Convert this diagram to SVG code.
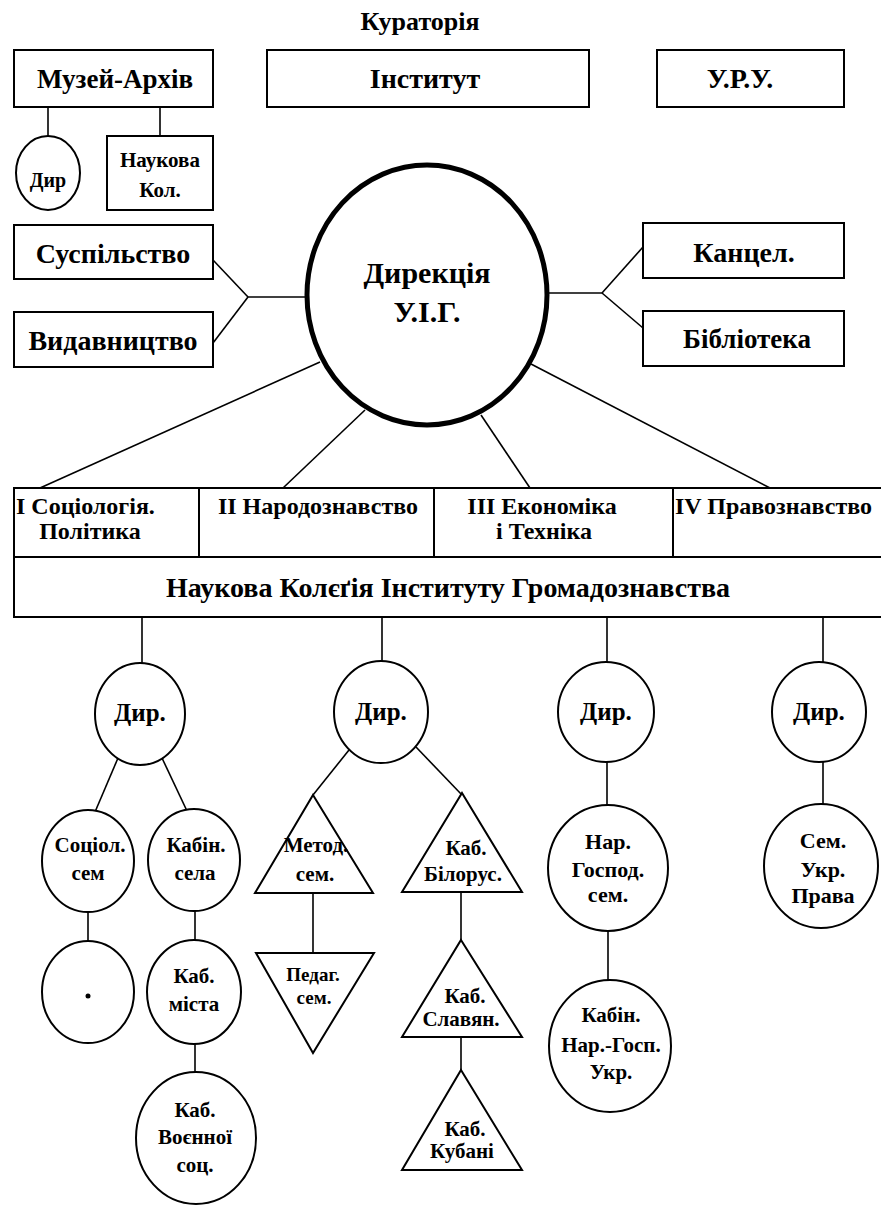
<svg xmlns="http://www.w3.org/2000/svg" width="881" height="1206" viewBox="0 0 881 1206">
<style>
.n{fill:#fff;stroke:#000;stroke-width:2}
.big{fill:#fff;stroke:#000;stroke-width:5}
.c line,.c path{stroke:#000;stroke-width:1.6;fill:none}
.d{stroke:#000;stroke-width:2}
text{font-family:"Liberation Serif","Times New Roman",serif;font-weight:bold;text-anchor:middle;fill:#000}
.s{text-anchor:start}
.t19{font-size:19px}.t20{font-size:20px}.t21{font-size:21px}.t22{font-size:22px}.t24{font-size:24px}.t25{font-size:25px}.t26{font-size:26px}.t27{font-size:27px}.t28{font-size:28px}.t30{font-size:30px}
</style>
<rect width="881" height="1206" fill="#fff"/>
<g id="connectors" class="c">
<line x1="48" y1="107" x2="48" y2="137"/>
<line x1="160" y1="107" x2="160" y2="136"/>
<line x1="213" y1="260" x2="248" y2="297"/>
<line x1="213" y1="343" x2="248" y2="297"/>
<line x1="248" y1="297" x2="307" y2="297"/>
<line x1="547" y1="293" x2="602" y2="293"/>
<line x1="602" y1="293" x2="643" y2="247"/>
<line x1="602" y1="293" x2="643" y2="328"/>
<line x1="320" y1="362" x2="40" y2="488"/>
<line x1="365" y1="410" x2="283" y2="488"/>
<line x1="481" y1="415" x2="530" y2="488"/>
<line x1="531" y1="364" x2="770" y2="488"/>
<line x1="142" y1="617" x2="142" y2="663"/>
<line x1="382" y1="617" x2="382" y2="661"/>
<line x1="607" y1="617" x2="607" y2="662"/>
<line x1="823" y1="617" x2="823" y2="662"/>
<line x1="118" y1="758" x2="95" y2="812"/>
<line x1="162" y1="758" x2="187" y2="811"/>
<line x1="349" y1="750" x2="313" y2="795"/>
<line x1="416" y1="747" x2="462" y2="795"/>
<line x1="607" y1="762" x2="607" y2="805"/>
<line x1="823" y1="762" x2="823" y2="804"/>
<line x1="88" y1="912" x2="88" y2="941"/>
<line x1="195" y1="911" x2="195" y2="940"/>
<line x1="195" y1="1044" x2="195" y2="1072"/>
<line x1="313" y1="893" x2="313" y2="953"/>
<line x1="461" y1="892" x2="461" y2="940"/>
<line x1="461" y1="1037" x2="461" y2="1070"/>
<line x1="608" y1="931" x2="608" y2="980"/>
</g>
<g id="curatorship"><text class="t26" x="420" y="30">Кураторія</text></g>
<g id="museum"><rect class="n" x="14" y="50" width="199" height="57"/><text class="t27" x="115" y="88">Музей-Архів</text></g>
<g id="institute"><rect class="n" x="267" y="50" width="322" height="57"/><text class="t28" x="425" y="88">Інститут</text></g>
<g id="uru"><rect class="n" x="657" y="50" width="187" height="57"/><text class="t28" x="740" y="88">У.Р.У.</text></g>
<g id="museum-dir"><ellipse class="n" cx="48" cy="173" rx="32" ry="37"/><text class="t20" x="48" y="187">Дир</text></g>
<g id="museum-college"><rect class="n" x="107" y="136" width="106" height="74"/><text class="t21" x="160" y="167">Наукова</text><text class="t21" x="160" y="197">Кол.</text></g>
<g id="society"><rect class="n" x="14" y="225" width="199" height="54"/><text class="t28" x="113" y="263">Суспільство</text></g>
<g id="publishing"><rect class="n" x="14" y="312" width="199" height="55"/><text class="t28" x="113" y="350">Видавництво</text></g>
<g id="chancellery"><rect class="n" x="643" y="223" width="201" height="55"/><text class="t28" x="744" y="262">Канцел.</text></g>
<g id="library"><rect class="n" x="643" y="311" width="201" height="55"/><text class="t27" x="747" y="348">Бібліотека</text></g>
<g id="directorate"><ellipse class="big" cx="427" cy="295" rx="120" ry="130"/><text class="t30" x="427" y="283">Дирекція</text><text class="t30" x="427" y="322">У.І.Г.</text></g>
<g id="sections">
<rect class="n" x="14" y="488" width="870" height="129"/>
<line class="d" x1="14" y1="557" x2="884" y2="557"/>
<line class="d" x1="199" y1="488" x2="199" y2="557"/>
<line class="d" x1="434" y1="488" x2="434" y2="557"/>
<line class="d" x1="673" y1="488" x2="673" y2="557"/>
</g>
<g id="sec1"><text class="t24 s" x="16" y="514">I Соціологія.</text><text class="t24" x="90" y="539">Політика</text></g>
<g id="sec2"><text class="t24" x="318" y="514">II Народознавство</text></g>
<g id="sec3"><text class="t24" x="542" y="514">III Економіка</text><text class="t24" x="544" y="539">і Техніка</text></g>
<g id="sec4"><text class="t24 s" x="675" y="514">IV Правознавство</text></g>
<g id="college"><text class="t28" x="448" y="597">Наукова Колєґія Інституту Громадознавства</text></g>
<g id="dir1"><ellipse class="n" cx="140" cy="714" rx="45" ry="51"/><text class="t25" x="140" y="721">Дир.</text></g>
<g id="dir2"><ellipse class="n" cx="381" cy="712" rx="47" ry="51"/><text class="t25" x="381" y="720">Дир.</text></g>
<g id="dir3"><ellipse class="n" cx="606" cy="712" rx="48" ry="50"/><text class="t25" x="606" y="720">Дир.</text></g>
<g id="dir4"><ellipse class="n" cx="819" cy="712" rx="47" ry="50"/><text class="t25" x="819" y="720">Дир.</text></g>
<g id="sociol-sem"><ellipse class="n" cx="88" cy="861" rx="46" ry="51"/><text class="t21" x="90" y="852">Соціол.</text><text class="t21" x="88" y="880">сем</text></g>
<g id="village"><ellipse class="n" cx="194" cy="860" rx="46" ry="51"/><text class="t21" x="196" y="852">Кабін.</text><text class="t21" x="195" y="880">села</text></g>
<g id="dot-node"><ellipse class="n" cx="88" cy="992" rx="46" ry="51"/><circle cx="88" cy="996" r="2.5" fill="#000"/></g>
<g id="city"><ellipse class="n" cx="194" cy="992" rx="47" ry="52"/><text class="t21" x="194" y="983">Каб.</text><text class="t21" x="194" y="1011">міста</text></g>
<g id="military"><ellipse class="n" cx="196" cy="1138" rx="60" ry="66"/><text class="t21" x="195" y="1117">Каб.</text><text class="t21" x="195" y="1144">Воєнної</text><text class="t21" x="195" y="1172">соц.</text></g>
<g id="method"><path class="n" d="M313 795 L373 893 L255 893 Z"/><text class="t21" x="316" y="852">Метод.</text><text class="t21" x="315" y="881">сем.</text></g>
<g id="pedag"><path class="n" d="M256 953 L374 953 L313 1053 Z"/><text class="t19" x="313" y="981">Педаг.</text><text class="t19" x="314" y="1004">сем.</text></g>
<g id="belarus"><path class="n" d="M462 793 L522 892 L402 892 Z"/><text class="t21" x="466" y="855">Каб.</text><text class="t21" x="463" y="881">Білорус.</text></g>
<g id="slavic"><path class="n" d="M461 940 L522 1037 L402 1037 Z"/><text class="t21" x="465" y="1003">Каб.</text><text class="t21" x="461" y="1026">Славян.</text></g>
<g id="kuban"><path class="n" d="M461 1070 L522 1170 L402 1170 Z"/><text class="t21" x="465" y="1136">Каб.</text><text class="t21" x="462" y="1158">Кубані</text></g>
<g id="econ-sem"><ellipse class="n" cx="608" cy="868" rx="60" ry="63"/><text class="t22" x="608" y="849">Нар.</text><text class="t22" x="608" y="877">Господ.</text><text class="t22" x="608" y="902">сем.</text></g>
<g id="econ-cab"><ellipse class="n" cx="610" cy="1046" rx="61" ry="66"/><text class="t21" x="611" y="1022">Кабін.</text><text class="t21" x="611" y="1052">Нар.-Госп.</text><text class="t21" x="611" y="1079">Укр.</text></g>
<g id="law-sem"><ellipse class="n" cx="821" cy="866" rx="57" ry="62"/><text class="t22" x="823" y="848">Сем.</text><text class="t22" x="823" y="877">Укр.</text><text class="t22" x="823" y="903">Права</text></g>
</svg>
